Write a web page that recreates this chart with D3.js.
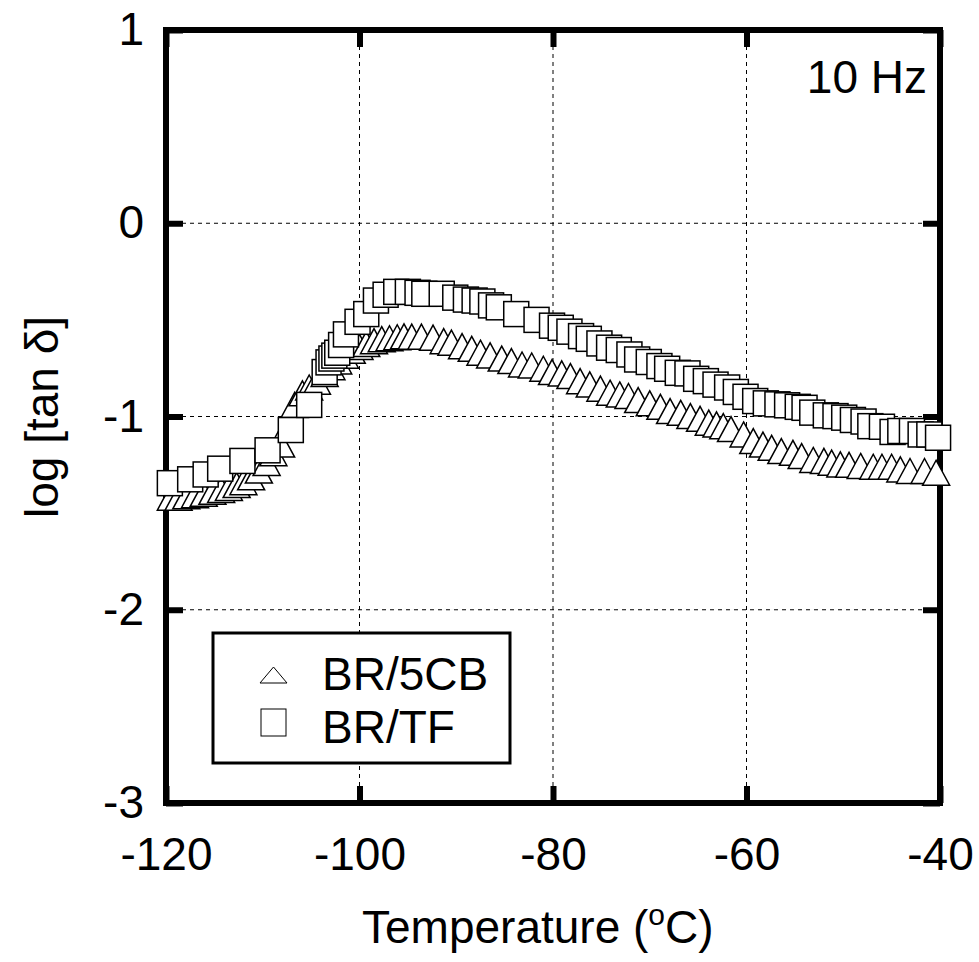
<!DOCTYPE html>
<html>
<head>
<meta charset="utf-8">
<script src="https://cdn.jsdelivr.net/npm/d3@7"></script>
<style>
  body { margin: 0; background: #fff; }
  text { font-family: "Liberation Sans", Arial, sans-serif; }
</style>
</head>
<body>
<svg id="chart" width="979" height="962"></svg>
<script>
// BR/5CB (triangles)
const temps5CB = [-119.5, -118.7, -117.9, -117.0, -116.1, -115.2, -114.3, -113.5, -112.7, -112.0,
  -111.2, -110.4, -109.6, -108.9, -108.1, -107.4, -106.7, -105.9, -105.2, -104.4,
  -103.6, -102.9, -102.2, -101.5, -100.8, -100.0, -99.3, -98.5, -97.7, -96.9,
  -96.1, -95.4, -94.6, -93.6, -92.4, -91.3, -90.5, -89.4, -88.4, -87.5,
  -86.5, -85.3, -84.3, -83.2, -82.2, -81.0, -80.1, -79.1, -78.2, -77.2,
  -76.2, -75.1, -74.1, -73.1, -72.2, -71.2, -70.0, -68.9, -67.9, -66.8,
  -65.8, -64.8, -63.9, -63.1, -62.4, -61.6, -60.3, -59.3, -58.3, -57.4,
  -56.4, -55.2, -54.3, -53.1, -52.0, -51.2, -50.3, -49.4, -48.2, -46.9,
  -46.0, -45.0, -44.1, -43.1, -41.6, -40.4];
const logTan5CB = [-1.42, -1.42, -1.413, -1.407, -1.40, -1.39, -1.38, -1.37, -1.355, -1.34,
  -1.315, -1.28, -1.24, -1.19, -1.145, -1.05, -0.94, -0.88, -0.85, -0.82,
  -0.78, -0.745, -0.715, -0.685, -0.66, -0.64, -0.625, -0.61, -0.60, -0.595,
  -0.59, -0.585, -0.587, -0.587, -0.592, -0.61, -0.618, -0.636, -0.65, -0.67,
  -0.684, -0.70, -0.713, -0.731, -0.736, -0.753, -0.77, -0.777, -0.791, -0.817,
  -0.834, -0.856, -0.877, -0.886, -0.894, -0.915, -0.932, -0.95, -0.972, -0.981,
  -0.998, -1.012, -1.032, -1.041, -1.05, -1.065, -1.093, -1.127, -1.145, -1.162,
  -1.179, -1.188, -1.205, -1.225, -1.23, -1.239, -1.248, -1.25, -1.256, -1.26,
  -1.26, -1.26, -1.274, -1.282, -1.282, -1.291];

// BR/TF (squares)
const tempsTF = [-119.6, -117.5, -115.9, -114.4, -112.1, -109.5, -107.1, -105.2, -103.6, -103.2,
  -102.9, -102.6, -102.3, -101.9, -101.4, -100.2, -99.3, -98.3, -97.3, -96.2,
  -95.0, -94.0, -93.3, -91.5, -90.1, -89.0, -88.1, -87.3, -86.4, -85.6,
  -83.8, -81.7, -80.1, -79.2, -78.3, -77.1, -76.3, -75.2, -74.2, -73.2,
  -72.1, -71.3, -70.1, -69.0, -68.2, -67.1, -66.1, -65.2, -64.2, -63.2,
  -62.0, -61.1, -60.1, -59.1, -58.0, -56.8, -55.8, -54.7, -54.0, -53.2,
  -51.8, -50.8, -49.9, -49.0, -47.9, -47.2, -46.0, -44.9, -44.1, -42.9,
  -42.0, -41.1, -40.2];
const logTanTF = [-1.345, -1.325, -1.30, -1.27, -1.23, -1.175, -1.07, -0.94, -0.77, -0.72,
  -0.70, -0.685, -0.67, -0.63, -0.575, -0.51, -0.47, -0.40, -0.37, -0.355,
  -0.355, -0.36, -0.365, -0.365, -0.385, -0.395, -0.40, -0.405, -0.425, -0.435,
  -0.47, -0.50, -0.53, -0.541, -0.561, -0.584, -0.598, -0.622, -0.644, -0.656,
  -0.679, -0.705, -0.718, -0.739, -0.753, -0.774, -0.777, -0.805, -0.817, -0.835,
  -0.85, -0.873, -0.898, -0.92, -0.932, -0.937, -0.942, -0.95, -0.955, -0.98,
  -0.994, -0.998, -1.006, -1.018, -1.026, -1.05, -1.053, -1.08, -1.075, -1.075,
  -1.093, -1.093, -1.11];

const xTicks = [-120, -100, -80, -60, -40];
const yTicks = [1, 0, -1, -2, -3];
const legendLabels = ["BR/5CB", "BR/TF"];

const svg = d3.select("#chart");
const margin = {top: 30, right: 39, bottom: 159, left: 166};
const width = +svg.attr("width") - margin.left - margin.right;
const height = +svg.attr("height") - margin.top - margin.bottom;

const x = d3.scaleLinear().domain([-120, -40]).range([0, width]);
const y = d3.scaleLinear().domain([-3, 1]).range([height, 0]);

const g = svg.append("g")
  .attr("transform", "translate(" + margin.left + "," + margin.top + ")");

// dashed grid
g.selectAll(".vgrid").data(xTicks.slice(1, -1)).enter().append("line")
  .attr("x1", d => x(d)).attr("x2", d => x(d))
  .attr("y1", 0).attr("y2", height)
  .attr("stroke", "#000").attr("stroke-width", 1).attr("stroke-dasharray", "4,4");
g.selectAll(".hgrid").data(yTicks.slice(1, -1)).enter().append("line")
  .attr("y1", d => y(d)).attr("y2", d => y(d))
  .attr("x1", 0).attr("x2", width)
  .attr("stroke", "#000").attr("stroke-width", 1).attr("stroke-dasharray", "4,4");

// axes with inward ticks; plain hyphen for negatives
const fmt = d => String(d);
const styleAxis = (sel) => {
  sel.select(".domain").remove();
  sel.selectAll(".tick line").attr("stroke", "#000").attr("stroke-width", 6);
  sel.selectAll(".tick text").attr("fill", "#000").attr("font-size", 46);
};

g.append("g").attr("transform", "translate(0," + height + ")")
  .call(d3.axisBottom(x).tickValues(xTicks).tickSize(-17).tickPadding(34).tickFormat(fmt))
  .call(styleAxis);
g.append("g")
  .call(d3.axisTop(x).tickValues(xTicks).tickSize(-17).tickFormat(""))
  .call(styleAxis);
g.append("g")
  .call(d3.axisLeft(y).tickValues(yTicks).tickSize(-17).tickPadding(22).tickFormat(fmt))
  .call(styleAxis);
g.append("g").attr("transform", "translate(" + width + ",0)")
  .call(d3.axisRight(y).tickValues(yTicks).tickSize(-17).tickFormat(""))
  .call(styleAxis);

// frame
g.append("rect")
  .attr("x", 0).attr("y", 0).attr("width", width).attr("height", height)
  .attr("fill", "none").attr("stroke", "#000").attr("stroke-width", 6);

const triPath = "M0,-12.5L13.5,12.5L-13.5,12.5Z";
const sq = 25;

// triangles
g.selectAll(".tri").data(temps5CB).enter().append("path")
  .attr("class", "tri")
  .attr("d", triPath)
  .attr("transform", (d, i) => "translate(" + x(d) + "," + y(logTan5CB[i]) + ")")
  .attr("fill", "#fff").attr("stroke", "#000").attr("stroke-width", 1.5);

// squares
g.selectAll(".sq").data(tempsTF).enter().append("rect")
  .attr("class", "sq")
  .attr("x", d => x(d) - sq / 2)
  .attr("y", (d, i) => y(logTanTF[i]) - sq / 2)
  .attr("width", sq).attr("height", sq)
  .attr("fill", "#fff").attr("stroke", "#000").attr("stroke-width", 1.5);

// legend
const leg = svg.append("g").attr("transform", "translate(213,633)");
leg.append("rect").attr("width", 297).attr("height", 130)
  .attr("fill", "#fff").attr("stroke", "#000").attr("stroke-width", 3);
leg.append("path").attr("d", "M60.5,34L74,50L47,50Z")
  .attr("fill", "none").attr("stroke", "#000").attr("stroke-width", 1);
leg.append("rect").attr("x", 48).attr("y", 76).attr("width", 25).attr("height", 27)
  .attr("fill", "none").attr("stroke", "#000").attr("stroke-width", 1);
leg.selectAll(".lt").data(legendLabels).enter().append("text")
  .attr("x", 109).attr("y", (d, i) => 57 + i * 53)
  .attr("font-size", 46).text(d => d);

// annotation
svg.append("text").attr("x", 927).attr("y", 93).attr("text-anchor", "end")
  .attr("font-size", 46).text("10 Hz");

// axis titles
const xt = svg.append("text").attr("x", 362).attr("y", 943).attr("font-size", 46);
xt.append("tspan").text("Temperature (");
xt.append("tspan").attr("font-size", 30).attr("dy", -18).text("o");
xt.append("tspan").attr("dy", 18).text("C)");

svg.append("text")
  .attr("transform", "translate(58,417) rotate(-90)")
  .attr("text-anchor", "middle").attr("font-size", 46)
  .text("log [tan δ]");
</script>
</body>
</html>
